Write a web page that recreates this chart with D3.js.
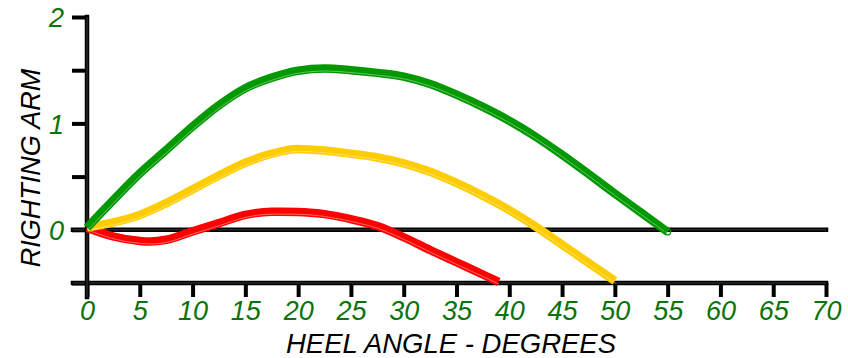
<!DOCTYPE html>
<html><head><meta charset="utf-8">
<script src="https://cdn.jsdelivr.net/npm/d3@7"></script>
<style>
html,body{margin:0;padding:0;background:#fff;}
svg{display:block;}
text{font-family:"Liberation Sans",Arial,sans-serif;font-style:italic;}
</style></head>
<body>
<script>
const xTicks = [0,5,10,15,20,25,30,35,40,45,50,55,60,65,70];
const yTicks = [-0.5,0,0.5,1,1.5,2];
const yTickLabels = ["","0","","1","","2"];
const greenDeg = [0,2.5,5,7.5,10,12.5,15,17.5,20,22.5,25,27.5,30,32.5,35,37.5,40,42.5,45,47.5,50,52.5,55];
const greenVal = [0.02,0.28,0.53,0.75,0.97,1.17,1.33,1.43,1.495,1.515,1.50,1.475,1.44,1.37,1.27,1.155,1.025,0.875,0.705,0.525,0.34,0.16,-0.02];
const yellowDeg = [0,2.5,5,7.5,10,12.5,15,17.5,20,22.5,25,27.5,30,32.5,35,37.5,40,42.5,45,47.5,50];
const yellowVal = [0.02,0.07,0.14,0.25,0.38,0.51,0.63,0.715,0.76,0.745,0.715,0.68,0.625,0.545,0.44,0.32,0.185,0.03,-0.14,-0.31,-0.48];
const redDeg = [0,2.5,5,6,7.5,10,12.5,15,17.5,20,22.5,25,27.5,30,32.5,35,37.5,39];
const redVal = [0.02,-0.063,-0.105,-0.11,-0.094,-0.015,0.063,0.14,0.17,0.168,0.147,0.10,0.035,-0.07,-0.19,-0.305,-0.42,-0.49];
const xLabel = "HEEL ANGLE - DEGREES";
const yLabel = "RIGHTING ARM";

const W = 848, H = 358;
const svg = d3.select("body").append("svg").attr("width", W).attr("height", H);
const x = d3.scaleLinear().domain([0,70]).range([87,826]);
const y = d3.scaleLinear().domain([-0.5,2]).range([283,17]);
const tickColor = "#0b730b";
const fontFam = "Liberation Sans, Arial, sans-serif";

const xAxis = d3.axisBottom(x).tickValues(xTicks).tickSize(14).tickSizeOuter(0);
const gx = svg.append("g").attr("transform", `translate(0,${y(-0.5)})`).call(xAxis);
gx.select(".domain").remove();
gx.selectAll(".tick line").attr("stroke","#000").attr("stroke-width",4);
gx.selectAll(".tick text").attr("fill",tickColor).attr("font-size",27).attr("font-family",fontFam)
  .attr("font-style","italic").attr("y",37).attr("dy",0);

const yAxis = d3.axisLeft(y).tickValues(yTicks).tickSize(15).tickSizeOuter(0).tickPadding(8)
  .tickFormat((d,i)=>yTickLabels[i]);
const gy = svg.append("g").attr("transform", `translate(${x(0)},0)`).call(yAxis);
gy.select(".domain").remove();
gy.selectAll(".tick line").attr("stroke","#000").attr("stroke-width",4);
gy.selectAll(".tick text").attr("fill",tickColor).attr("font-size",27).attr("font-family",fontFam)
  .attr("font-style","italic").attr("dy","0.36em");

const axisLines = [
  [x(0)-14, y(-0.5), x(70), y(-0.5)],
  [x(0)-14, y(0), x(70), y(0)],
  [x(0), y(2), x(0), y(-0.5)+14]
];
axisLines.forEach(l=>{
  svg.append("line").attr("x1",l[0]).attr("y1",l[1]).attr("x2",l[2]).attr("y2",l[3])
    .attr("stroke","#000").attr("stroke-width",4.5).attr("stroke-linecap","square");
  svg.append("line").attr("x1",l[0]).attr("y1",l[1]).attr("x2",l[2]).attr("y2",l[3])
    .attr("stroke","#666").attr("stroke-width",0.6);
});

const line = d3.line().x(d=>x(d[0])).y(d=>y(d[1])).curve(d3.curveMonotoneX);
const series = [
  {deg: redDeg, val: redVal, color: "#ff0000"},
  {deg: yellowDeg, val: yellowVal, color: "#ffcc00"},
  {deg: greenDeg, val: greenVal, color: "#009900"}
];
series.forEach(s=>{
  const pts = s.deg.map((d,i)=>[d, s.val[i]]);
  svg.append("path").attr("d", line(pts)).attr("fill","none")
    .attr("stroke", s.color).attr("stroke-width",8.5).attr("stroke-linecap","butt");
  svg.append("path").attr("d", line(pts)).attr("fill","none")
    .attr("stroke", "#fff").attr("stroke-opacity",0.5).attr("stroke-width",0.8)
    .attr("transform","translate(0.8,2.4)");
});
svg.append("circle").attr("cx", x(greenDeg[greenDeg.length-1])).attr("cy", y(greenVal[greenVal.length-1]))
  .attr("r",3).attr("fill","none").attr("stroke","#009900").attr("stroke-width",1.2);

svg.append("text").attr("x", 451).attr("y", 353).attr("text-anchor","middle")
  .attr("font-size",27.5).attr("fill","#000").text(xLabel);
svg.append("text").attr("transform", `translate(40,168) rotate(-90)`).attr("text-anchor","middle")
  .attr("font-size",27).attr("fill","#000").text(yLabel);
</script>
</body></html>
